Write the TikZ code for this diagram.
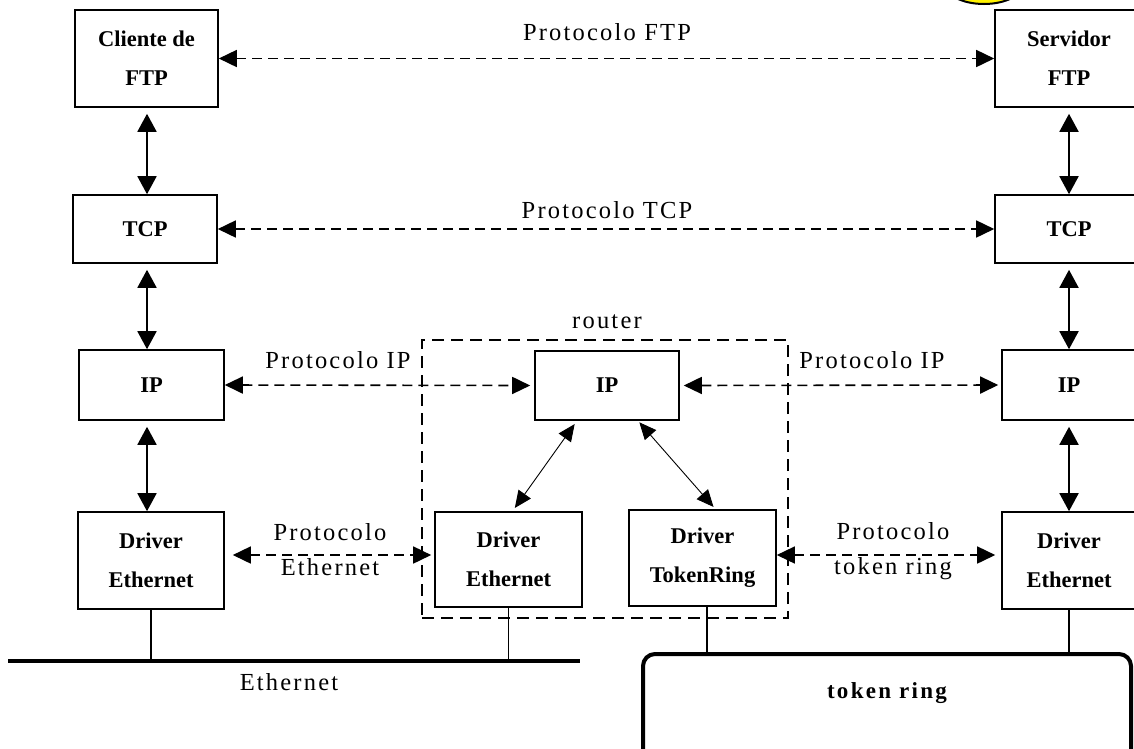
\documentclass[tikz,border=0pt]{standalone}
\usepackage{fontspec}
\setmainfont{Liberation Serif}
\newfontfamily\labfont[LetterSpace=9]{Liberation Serif}
\newfontfamily\tokfont[LetterSpace=10]{Liberation Serif}
\usetikzlibrary{arrows.meta}
\begin{document}
\begin{tikzpicture}[x=1pt,y=-1pt,
  box/.style={draw, line width=1.6pt, inner sep=0pt, align=center, font=\bfseries\fontsize{22.5}{39}\selectfont},
  lab/.style={font=\labfont\fontsize{24.5}{35}\selectfont, align=center, inner sep=0pt},
  proto/.style={line width=1.6pt, dash pattern=on 10pt off 6pt, {Triangle[length=18pt,width=17pt]}-{Triangle[length=18pt,width=17pt]}},
  vert/.style={line width=1.8pt, {Triangle[length=18pt,width=19pt]}-{Triangle[length=18pt,width=19pt]}},
  diag/.style={line width=0.9pt, {Triangle[length=17pt,width=15pt]}-{Triangle[length=17pt,width=15pt]}},
  drop/.style={line width=1.6pt}
]
\useasboundingbox (0,0) rectangle (1134,748);
\clip (0,0) rectangle (1134,748);
\fill[white] (0,0) rectangle (1134,748);

% yellow shape cut at top
\draw[fill=yellow, line width=2pt] (984,-17) ellipse [x radius=40, y radius=21];

% left column
\node[box, minimum width=143pt, minimum height=97pt] (cftp) at (146.5,58.5) {Cliente de\\FTP};
\node[box, minimum width=144pt, minimum height=68pt] (ltcp) at (145,229) {TCP};
\node[box, minimum width=145pt, minimum height=70pt] (lip) at (151.5,385) {IP};
\node[box, minimum width=146pt, minimum height=97pt] (ldrv) at (151,560.5) {Driver\\Ethernet};

% right column
\node[box, minimum width=148pt, minimum height=97pt] (sftp) at (1069,58.5) {Servidor\\FTP};
\node[box, minimum width=148pt, minimum height=68pt] (rtcp) at (1069,229) {TCP};
\node[box, minimum width=134pt, minimum height=70pt] (rip) at (1069,385) {IP};
\node[box, minimum width=134pt, minimum height=97pt] (rdrv) at (1069,560.5) {Driver\\Ethernet};

% router
\node[draw, line width=1.6pt, dash pattern=on 12pt off 7pt, minimum width=366pt, minimum height=278pt, inner sep=0pt] (router) at (605,479) {};
\node[lab] (routerlab) at (607,322) {router};
\node[box, minimum width=144pt, minimum height=69pt] (rtip) at (607,385.5) {IP};
\node[box, minimum width=147pt, minimum height=95pt] (reth) at (508.5,559.5) {Driver\\Ethernet};
\node[box, minimum width=147pt, minimum height=96pt] (rtok) at (702.5,558) {Driver\\TokenRing};

% protocol arrows
\draw[proto] (cftp.east) -- (sftp.west);
\draw[proto] (ltcp.east) -- (rtcp.west);
\draw[proto, shorten >=4pt] (lip.east) -- (rtip.west);
\draw[proto, shorten <=4pt, shorten >=3pt] (rtip.east) -- (rip.west);
\coordinate (e1) at ([yshift=5.5pt]ldrv.east);
\draw[proto, shorten <=8pt, shorten >=3pt] (e1) -- (e1 -| reth.west);
\coordinate (t1) at ([yshift=3pt]rtok.east);
\draw[proto, shorten >=6pt] (t1) -- (t1 -| rdrv.west);

% labels
\node[lab] (lftp) at (607,32) {Protocolo FTP};
\node[lab] (ltcpl) at (607,210) {Protocolo TCP};
\node[lab] (lipl) at (338,360) {Protocolo IP};
\node[lab] (ripl) at (872,360) {Protocolo IP};
\node[lab] (ethl) at (330,550) {Protocolo\\Ethernet};
\node[lab] (trl) at (893,551) {Protocolo\\token ring};

% vertical arrows
\coordinate (lx) at (147,0);
\coordinate (rx) at (1069,0);
\draw[vert, shorten <=6pt] (cftp.south -| lx) -- (ltcp.north -| lx);
\draw[vert, shorten <=6pt] (ltcp.south -| lx) -- (lip.north -| lx);
\draw[vert, shorten <=6pt] (lip.south -| lx) -- (ldrv.north -| lx);
\draw[vert, shorten <=6pt] (sftp.south -| rx) -- (rtcp.north -| rx);
\draw[vert, shorten <=6pt] (rtcp.south -| rx) -- (rip.north -| rx);
\draw[vert, shorten <=6pt] (rip.south -| rx) -- (rdrv.north -| rx);

% diagonal arrows in router
\draw[diag, shorten <=4pt, shorten >=4pt] ([xshift=-30pt]rtip.south) -- ([xshift=4pt]reth.north);
\draw[diag, shorten <=2pt, shorten >=3pt] ([xshift=31pt]rtip.south) -- ([xshift=13pt]rtok.north);

% Ethernet bus
\coordinate (ethA) at (8,661);
\coordinate (ethB) at (580,661);
\draw[line width=4.5pt] (ethA) -- (ethB);
\node[lab] (ethname) at (289,682) {Ethernet};
\draw[drop] (ldrv.south) -- (ldrv.south |- ethA);
\draw[drop] (reth.south) -- (reth.south |- ethA);

% token ring (box runs past the lower edge)
\coordinate (trsw) at (643,900);
\coordinate (trnw) at (643,654);
\coordinate (trne) at (1131,654);
\coordinate (trse) at (1131,900);
\draw[line width=4pt, rounded corners=12pt] (trsw) -- (trnw) -- (trne) -- (trse);
\node[inner sep=0pt, font=\tokfont\bfseries\fontsize{23}{26}\selectfont] (tring) at (887,693) {token ring};
\coordinate (tk1) at ([xshift=4.5pt]rtok.south);
\draw[drop] (tk1) -- (tk1 |- trnw);
\draw[drop] (rdrv.south) -- (rdrv.south |- trnw);
\end{tikzpicture}
\end{document}
